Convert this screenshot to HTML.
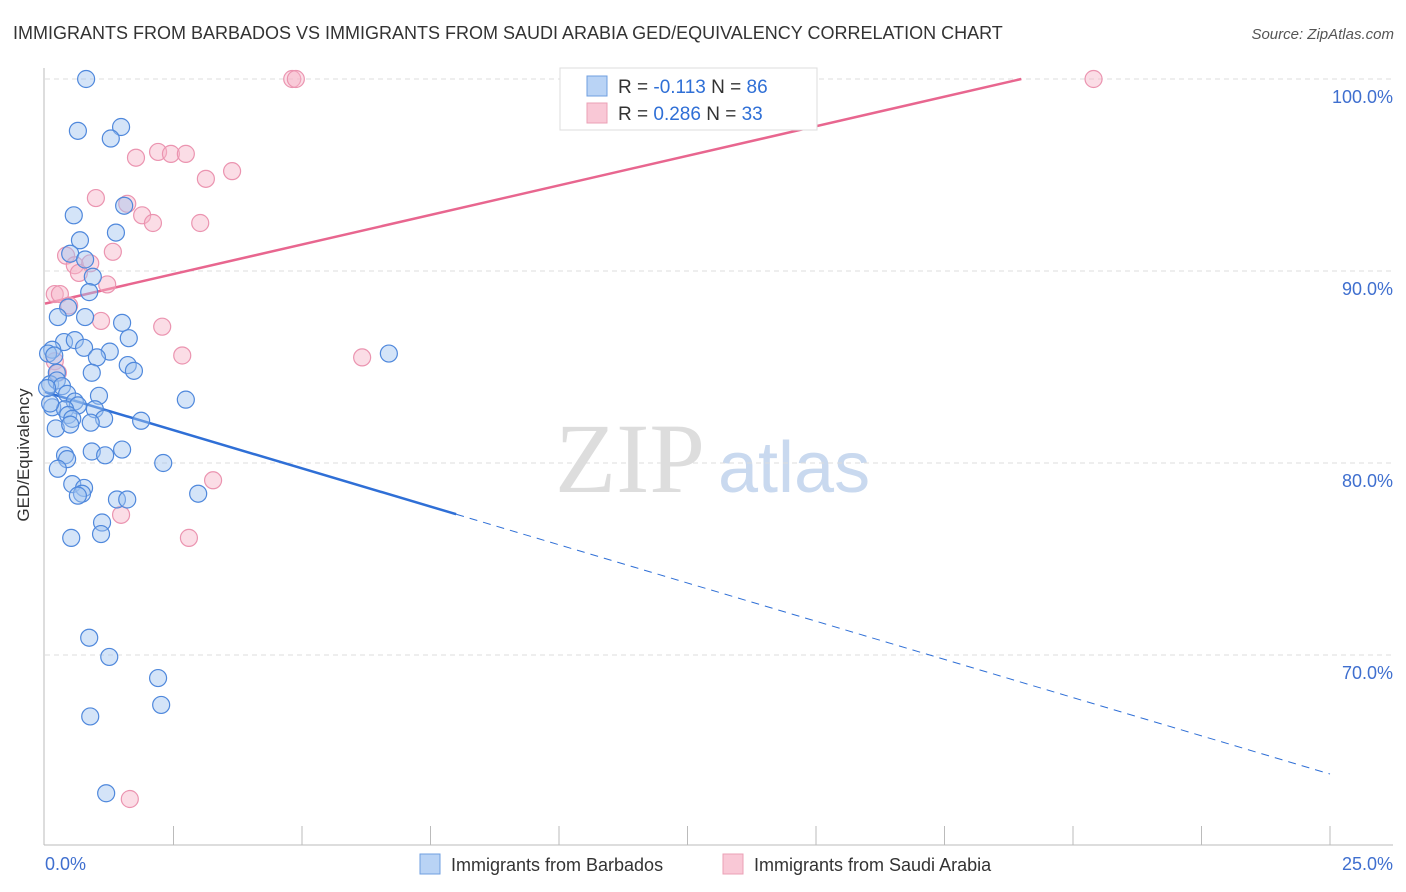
<!DOCTYPE html>
<html><head><meta charset="utf-8"><style>
body{margin:0;background:#fff;font-family:"Liberation Sans",sans-serif}
svg{display:block}
</style></head><body>
<svg id="c" width="1406" height="892" viewBox="0 0 1406 892">
<text x="13" y="39" font-size="18" fill="#333">IMMIGRANTS FROM BARBADOS VS IMMIGRANTS FROM SAUDI ARABIA GED/EQUIVALENCY CORRELATION CHART</text>
<text x="1394" y="39" font-size="15" fill="#555" font-style="italic" text-anchor="end">Source: ZipAtlas.com</text>
<g>
<text x="555" y="492" font-size="100" fill="#ddd" font-family="Liberation Serif,serif">ZIP</text>
<text x="718" y="492" font-size="72" fill="#c9d9ef">atlas</text>
</g>
<g id="grid"></g>
<g id="axes"></g>
<g id="trend"></g>
<g id="pts"></g>
<text x="29" y="455" font-size="17" fill="#333" text-anchor="middle" transform="rotate(-90 29 455)">GED/Equivalency</text>
<text x="45" y="870" font-size="18" fill="#3f6fcf">0.0%</text>
<text x="1393" y="870" font-size="18" fill="#3f6fcf" text-anchor="end">25.0%</text>
<g>
<rect x="560" y="68" width="257" height="62" fill="#fff" stroke="#ddd"/>
<rect x="587" y="76" width="20" height="20" fill="#b9d3f5" stroke="#6f9fe0"/>
<rect x="587" y="103" width="20" height="20" fill="#f9c8d6" stroke="#eba0b6"/>
<text x="618" y="93" font-size="19" fill="#333">R = <tspan fill="#2f6fd6">-0.113</tspan>   N = <tspan fill="#2f6fd6">86</tspan></text>
<text x="618" y="120" font-size="19" fill="#333">R = <tspan fill="#2f6fd6"> 0.286</tspan>   N = <tspan fill="#2f6fd6">33</tspan></text>
</g>
<g>
<rect x="420" y="854" width="20" height="20" fill="#b9d3f5" stroke="#6f9fe0"/>
<text x="451" y="871" font-size="18" fill="#333">Immigrants from Barbados</text>
<rect x="723" y="854" width="20" height="20" fill="#f9c8d6" stroke="#eba0b6"/>
<text x="754" y="871" font-size="18" fill="#333">Immigrants from Saudi Arabia</text>
</g>
</svg>
<script>
const yTicks=[100,90,80,70];
const yTickLabels=["100.0%","90.0%","80.0%","70.0%"];
const blueX=[0.80,0.64,1.48,1.28,1.54,0.56,1.38,0.68,0.49,0.78,0.93,0.86,0.45,0.25,0.78,1.50,1.63,0.37,0.58,0.76,1.26,0.14,0.06,0.18,1.01,1.61,1.73,0.91,6.69,0.23,0.10,0.23,0.33,0.43,1.05,2.74,0.58,0.64,0.14,0.39,0.97,0.45,0.53,1.15,1.87,0.89,0.21,0.49,1.50,0.91,1.17,0.39,0.43,2.30,0.25,0.53,0.76,0.72,0.64,1.40,1.60,2.98,1.11,1.09,0.51,0.86,1.25,2.20,2.26,0.88,1.19,0.10,0.04];
const blueY=[100.0,97.3,97.5,96.9,93.4,92.9,92.0,91.6,90.9,90.6,89.7,88.9,88.1,87.6,87.6,87.3,86.5,86.3,86.4,86.0,85.8,85.9,85.7,85.6,85.5,85.1,84.8,84.7,85.7,84.7,84.1,84.3,84.0,83.6,83.5,83.3,83.2,83.0,82.9,82.8,82.8,82.5,82.3,82.3,82.2,82.1,81.8,82.0,80.7,80.6,80.4,80.4,80.2,80.0,79.7,78.9,78.7,78.4,78.3,78.1,78.1,78.4,76.9,76.3,76.1,70.9,69.9,68.8,67.4,66.8,62.8,83.1,83.9];
const pinkX=[4.81,4.88,20.4,1.77,2.20,2.45,2.74,3.13,3.64,0.99,1.60,1.89,2.10,3.02,0.41,0.58,0.88,0.66,1.32,1.21,0.19,0.29,0.47,1.09,2.28,2.67,6.17,0.19,0.25,3.27,1.48,2.80,1.65];
const pinkY=[100,100,100,95.9,96.2,96.1,96.1,94.8,95.2,93.8,93.5,92.9,92.5,92.5,90.8,90.3,90.4,89.9,91.0,89.3,88.8,88.8,88.2,87.4,87.1,85.6,85.5,85.3,84.7,79.1,77.3,76.1,62.5];
const blueTrend=[83.7,63.8]; // y at x=0, x=25
const blueSolidEnd=8.0;
const pinkTrend=[88.3,103.7];
const NS="http://www.w3.org/2000/svg";
const X=v=>45+v/25*1285;
const Y=v=>79+(100-v)*19.2;
function mk(t,a,p){const e=document.createElementNS(NS,t);for(const k in a)e.setAttribute(k,a[k]);p.appendChild(e);return e;}
const g=document.getElementById('grid');
yTicks.forEach((t,i)=>{
 const l=mk('line',{x1:45,x2:1393,y1:Y(t),y2:Y(t),stroke:'#ddd','stroke-dasharray':'5,4'},g);
 
 
 const tx=mk('text',{x:1393,y:Y(t)+24,'font-size':18,fill:'#3f6fcf','text-anchor':'end'},g);
 tx.textContent=yTickLabels[i];
 
 
});
const ax=document.getElementById('axes');
mk('line',{x1:44,x2:44,y1:68,y2:845,stroke:'#bbb'},ax);
mk('line',{x1:44,x2:1393,y1:845,y2:845,stroke:'#bbb'},ax);
for(let i=1;i<=10;i++){const t=mk('line',{x1:X(i*2.5),x2:X(i*2.5),y1:826,y2:845,stroke:'#bbb'},ax);
 
 }
const tr=document.getElementById('trend');
const bY=x=>blueTrend[0]+(blueTrend[1]-blueTrend[0])*x/25;
const b1=mk('line',{x1:X(0),y1:Y(bY(0)),x2:X(blueSolidEnd),y2:Y(bY(blueSolidEnd)),stroke:'#2f6fd6','stroke-width':2.5},tr);


const b2=mk('line',{x1:X(blueSolidEnd),y1:Y(bY(blueSolidEnd)),x2:X(25),y2:Y(bY(25)),stroke:'#2f6fd6','stroke-width':1,'stroke-dasharray':'8,6'},tr);


const pSlope=(pinkTrend[1]-pinkTrend[0])/25;
const pEnd=Math.min(25,(100-pinkTrend[0])/pSlope);
const p1=mk('line',{x1:X(0),y1:Y(pinkTrend[0]),x2:X(pEnd),y2:Y(pinkTrend[0]+pSlope*pEnd),stroke:'#e8668f','stroke-width':2.5},tr);


const pg=document.getElementById('pts');
pinkX.forEach((x,i)=>{const c=mk('circle',{cx:X(x),cy:Y(pinkY[i]),r:8.5,fill:'rgba(247,180,200,0.45)',stroke:'#eb94b0','stroke-width':1.2},pg);
 
 });
blueX.forEach((x,i)=>{const c=mk('circle',{cx:X(x),cy:Y(blueY[i]),r:8.5,fill:'rgba(160,195,240,0.45)',stroke:'#4f88dc','stroke-width':1.2},pg);
 
 });
</script>
</body></html>
